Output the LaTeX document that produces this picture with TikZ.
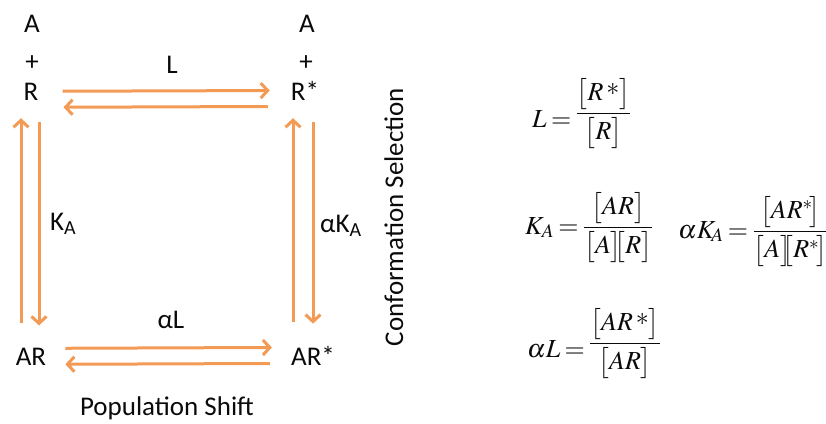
\documentclass[tikz,border=0pt]{standalone}
\usepackage{mathptmx}
\usepackage[no-math]{fontspec}
\setmainfont{Carlito}
\usetikzlibrary{arrows.meta,positioning}
\definecolor{fluxorange}{HTML}{F39A55}
\definecolor{ink}{HTML}{0A0A0A}
\newcommand{\upast}{\raisebox{0.2em}{$*$}}
\newcommand{\tightrel}{\thickmuskip=3mu\relax}
\tikzset{
  species/.style = {inner sep=0pt, anchor=base, text=ink,
                    font=\fontsize{27}{32}\selectfont},
  rxn/.style     = {-{Straight Barb[length=7pt,width=15pt]}, line width=3pt,
                    draw=fluxorange},
  eqn/.style     = {inner sep=0pt, anchor=base west, text=ink,
                    font=\fontsize{26}{31}\selectfont\tightrel},
}

\begin{document}
\begin{tikzpicture}[x=1pt,y=-1pt]
\useasboundingbox (0,0) rectangle (826,423);

% states of the square
\node[species] (a1)    at (32,32)   {A};
\node[species] (plus1) at (32,70)   {+};
\node[species] (r)     at (31,100)  {R};
\node[species] (a2)    at (307,32)  {A};
\node[species] (plus2) at (306,70)  {+};
\node[species] (rs)    at (305,100) {R*};
\node[species] (ar)    at (31,365)  {AR};
\node[species] (ars)   at (313,365) {AR*};

% rate labels
\node[species] (lbl)  at (172,73)  {L};
\node[species] (albl) at (171,328) {αL};
\node[species, anchor=base west] (ka)  at (50,230)  {K\textsubscript{A}};
\node[species, anchor=base west] (aka) at (320,232) {αK\textsubscript{A}};

\node[species] (pop)  at (167,415) {Population Shift};
\node[species, rotate=90] (conf) at (403,217) {Conformation Selection};

% equilibria
\draw[rxn, shorten <=24pt, shorten >=21pt] (r) -- (rs);
\draw[rxn, shorten <=23pt, shorten >=25pt] ([yshift=-16pt]rs.west) -- ([yshift=-16pt]r.east);
\draw[rxn, shorten <=19pt, shorten >=19pt] ([yshift=8pt]ar.east) -- ([yshift=8pt]ars.west);
\draw[rxn, shorten <=21pt, shorten >=19pt] ([yshift=-8pt]ars.west) -- ([yshift=-8pt]ar.east);

\draw[rxn, shorten <=24pt, shorten >=18pt] ([xshift=-10pt]ar.north) -- ([xshift=-10pt]r.south);
\draw[rxn, shorten <=22pt, shorten >=22pt] ([xshift=8pt]r.south) -- ([xshift=8pt]ar.north);
\draw[rxn, shorten <=24pt, shorten >=18pt] ([xshift=-20pt]ars.north) -- ([xshift=-12pt]rs.south);
\draw[rxn, shorten <=22pt, shorten >=22pt] ([xshift=8pt]rs.south) -- (ars.north);

% constants
\node[eqn] (eqL)  at (532,127) {$L=\raisebox{7pt}{$\displaystyle\frac{\bigl[R\,\upast\bigr]}{\bigl[R\bigr]}$}$};
\node[eqn] (eqK)  at (525,234) {$\displaystyle K_{A}=\frac{\bigl[AR\bigr]}{\bigl[A\bigr]\mskip-5mu\bigl[R\bigr]}$};
\node[eqn] (eqaK) at (678,238) {$\displaystyle \alpha K_{\!A}=\frac{\bigl[AR^*\mkern-2mu\bigr]}{\bigl[A\bigr]\mskip-6mu\bigl[R^*\mkern-2mu\bigr]}$};
\node[eqn] (eqaL) at (527,357) {$\alpha L=\raisebox{7pt}{$\displaystyle\frac{\bigl[AR\,\upast\bigr]}{\bigl[AR\bigr]}$}$};
\end{tikzpicture}
\end{document}
